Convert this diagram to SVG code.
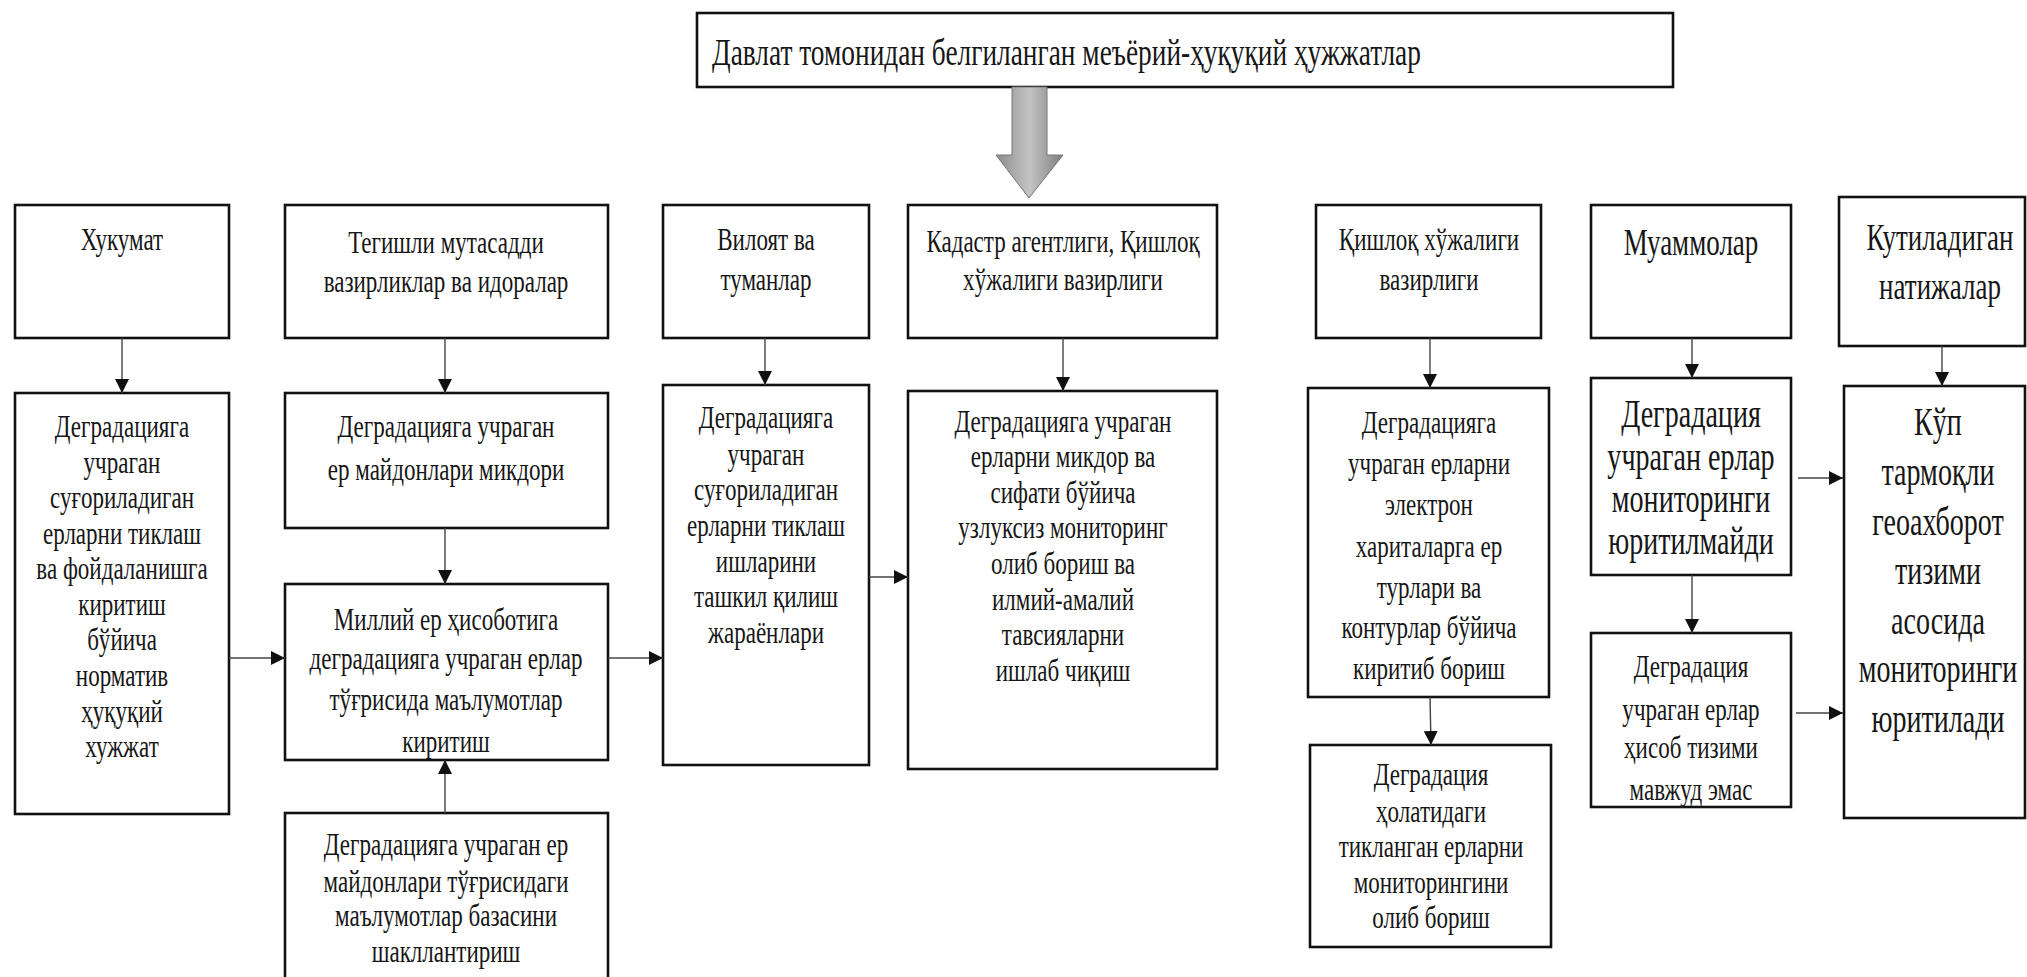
<svg xmlns="http://www.w3.org/2000/svg" width="2027" height="977" viewBox="0 0 2027 977">
<style>
.box{fill:#fff;stroke:#111;stroke-width:2.6}
.t{font-family:"Liberation Serif","Times New Roman",serif;font-size:32px;fill:#161616;text-anchor:middle}
.tl{font-size:39px}
.tm{font-size:37.5px}
.tt{font-family:"Liberation Serif","Times New Roman",serif;font-size:38px;fill:#161616}
.c{fill:none;stroke:#444;stroke-width:1.4}
</style>
<defs>
<marker id="ah" markerUnits="userSpaceOnUse" markerWidth="14" markerHeight="14" refX="14" refY="7" orient="auto">
<path d="M0,0 L14,7 L0,14 z" fill="#111"/>
</marker>
<linearGradient id="gr" x1="0" y1="0" x2="1" y2="0">
<stop offset="0" stop-color="#8c8c8c"/>
<stop offset="0.5" stop-color="#c4c4c4"/>
<stop offset="1" stop-color="#7e7e7e"/>
</linearGradient>
</defs>

<g id="top">
<rect class="box" x="697" y="13" width="976" height="74"/>
<g transform="translate(712 0) scale(0.72 1)"><text class="tt" x="0" y="65">Давлат томонидан белгиланган меъёрий-ҳуқуқий ҳужжатлар</text></g>
</g>
<g id="bigarrow">
<path d="M1012,87 L1047,87 L1047,155 L1063,155 L1029,198 L996,155 L1012,155 Z" fill="url(#gr)" stroke="#777" stroke-width="1"/>
</g>

<g id="A1"><rect class="box" x="15" y="205" width="214" height="133"/>
<g transform="translate(122 0) scale(0.72 1)">
<text class="t" x="0" y="250">Хукумат</text></g></g>
<g id="B1"><rect class="box" x="285" y="205" width="323" height="133"/>
<g transform="translate(446 0) scale(0.72 1)">
<text class="t" x="0" y="253">Тегишли мутасадди</text>
<text class="t" x="0" y="292">вазирликлар  ва идоралар</text></g></g>
<g id="C1"><rect class="box" x="663" y="205" width="206" height="133"/>
<g transform="translate(766 0) scale(0.72 1)">
<text class="t" x="0" y="250">Вилоят ва</text>
<text class="t" x="0" y="290">туманлар</text></g></g>
<g id="D1"><rect class="box" x="908" y="205" width="309" height="133"/>
<g transform="translate(1063 0) scale(0.72 1)">
<text class="t" x="0" y="252">Кадастр агентлиги, Қишлоқ</text>
<text class="t" x="0" y="290">хўжалиги вазирлиги</text></g></g>
<g id="E1"><rect class="box" x="1316" y="205" width="225" height="133"/>
<g transform="translate(1429 0) scale(0.72 1)">
<text class="t" x="0" y="250">Қишлоқ хўжалиги</text>
<text class="t" x="0" y="290">вазирлиги</text></g></g>
<g id="F1"><rect class="box" x="1591" y="205" width="200" height="133"/>
<g transform="translate(1691 0) scale(0.72 1)">
<text class="t tm" x="0" y="255">Муаммолар</text></g></g>
<g id="G1"><rect class="box" x="1839" y="197" width="186" height="149"/>
<g transform="translate(1940 0) scale(0.72 1)">
<text class="t tm" x="0" y="250">Кутиладиган</text>
<text class="t tm" x="0" y="299">натижалар</text></g></g>

<g id="A2"><rect class="box" x="15" y="393" width="214" height="421"/>
<g transform="translate(122 0) scale(0.72 1)">
<text class="t" x="0" y="437">Деградацияга</text>
<text class="t" x="0" y="473">учраган</text>
<text class="t" x="0" y="508">суғориладиган</text>
<text class="t" x="0" y="544">ерларни  тиклаш</text>
<text class="t" x="0" y="579">ва фойдаланишга</text>
<text class="t" x="0" y="615">киритиш</text>
<text class="t" x="0" y="650">бўйича</text>
<text class="t" x="0" y="686">норматив</text>
<text class="t" x="0" y="722">ҳуқуқий</text>
<text class="t" x="0" y="757">хужжат</text></g></g>
<g id="B2"><rect class="box" x="285" y="393" width="323" height="135"/>
<g transform="translate(446 0) scale(0.72 1)">
<text class="t" x="0" y="437">Деградацияга учраган</text>
<text class="t" x="0" y="480">ер майдонлари микдори</text></g></g>
<g id="B3"><rect class="box" x="285" y="584" width="323" height="176"/>
<g transform="translate(446 0) scale(0.72 1)">
<text class="t" x="0" y="630">Миллий ер ҳисоботига</text>
<text class="t" x="0" y="669">деградацияга учраган ерлар</text>
<text class="t" x="0" y="710">тўғрисида маълумотлар</text>
<text class="t" x="0" y="752">киритиш</text></g></g>
<g id="B4"><rect class="box" x="285" y="813" width="323" height="180"/>
<g transform="translate(446 0) scale(0.72 1)">
<text class="t" x="0" y="855">Деградацияга учраган ер</text>
<text class="t" x="0" y="892">майдонлари тўғрисидаги</text>
<text class="t" x="0" y="926">маълумотлар  базасини</text>
<text class="t" x="0" y="962">шакллантириш</text></g></g>
<g id="C2"><rect class="box" x="663" y="385" width="206" height="380"/>
<g transform="translate(766 0) scale(0.72 1)">
<text class="t" x="0" y="428">Деградацияга</text>
<text class="t" x="0" y="465">учраган</text>
<text class="t" x="0" y="500">суғориладиган</text>
<text class="t" x="0" y="536">ерларни  тиклаш</text>
<text class="t" x="0" y="572">ишларини</text>
<text class="t" x="0" y="607">ташкил қилиш</text>
<text class="t" x="0" y="643">жараёнлари</text></g></g>
<g id="D2"><rect class="box" x="908" y="391" width="309" height="378"/>
<g transform="translate(1063 0) scale(0.72 1)">
<text class="t" x="0" y="432">Деградацияга учраган</text>
<text class="t" x="0" y="467">ерларни  микдор ва</text>
<text class="t" x="0" y="503">сифати бўйича</text>
<text class="t" x="0" y="538">узлуксиз  мониторинг</text>
<text class="t" x="0" y="574">олиб бориш ва</text>
<text class="t" x="0" y="610">илмий-амалий</text>
<text class="t" x="0" y="645">тавсияларни</text>
<text class="t" x="0" y="681">ишлаб чиқиш</text></g></g>
<g id="E2"><rect class="box" x="1308" y="388" width="241" height="309"/>
<g transform="translate(1429 0) scale(0.72 1)">
<text class="t" x="0" y="433">Деградацияга</text>
<text class="t" x="0" y="474">учраган ерларни</text>
<text class="t" x="0" y="515">электрон</text>
<text class="t" x="0" y="557">хариталарга ер</text>
<text class="t" x="0" y="598">турлари  ва</text>
<text class="t" x="0" y="638">контурлар бўйича</text>
<text class="t" x="0" y="679">киритиб бориш</text></g></g>
<g id="E3"><rect class="box" x="1310" y="745" width="241" height="202"/>
<g transform="translate(1431 0) scale(0.72 1)">
<text class="t" x="0" y="785">Деградация</text>
<text class="t" x="0" y="822">ҳолатидаги</text>
<text class="t" x="0" y="857">тикланган ерларни</text>
<text class="t" x="0" y="893">мониторингини</text>
<text class="t" x="0" y="928">олиб бориш</text></g></g>
<g id="F2"><rect class="box" x="1591" y="378" width="200" height="197"/>
<g transform="translate(1691 0) scale(0.72 1)">
<text class="t tl" x="0" y="427">Деградация</text>
<text class="t tl" x="0" y="470">учраган ерлар</text>
<text class="t tl" x="0" y="512">мониторинги</text>
<text class="t tl" x="0" y="554">юритилмайди</text></g></g>
<g id="F3"><rect class="box" x="1591" y="633" width="200" height="174"/>
<g transform="translate(1691 0) scale(0.72 1)">
<text class="t" x="0" y="677">Деградация</text>
<text class="t" x="0" y="720">учраган ерлар</text>
<text class="t" x="0" y="758">ҳисоб тизими</text>
<text class="t" x="0" y="800">мавжуд эмас</text></g></g>
<g id="G2"><rect class="box" x="1844" y="386" width="181" height="432"/>
<g transform="translate(1938 0) scale(0.72 1)">
<text class="t tl" x="0" y="435">Кўп</text>
<text class="t tl" x="0" y="485">тармоқли</text>
<text class="t tl" x="0" y="535">геоахборот</text>
<text class="t tl" x="0" y="584">тизими</text>
<text class="t tl" x="0" y="634">асосида</text>
<text class="t tl" x="0" y="682">мониторинги</text>
<text class="t tl" x="0" y="732">юритилади</text></g></g>

<g id="connectors">
<line class="c" x1="122" y1="338" x2="122" y2="393" marker-end="url(#ah)"/>
<line class="c" x1="445" y1="338" x2="445" y2="393" marker-end="url(#ah)"/>
<line class="c" x1="445" y1="528" x2="445" y2="584" marker-end="url(#ah)"/>
<line class="c" x1="445" y1="813" x2="445" y2="760" marker-end="url(#ah)"/>
<line class="c" x1="229" y1="658" x2="285" y2="658" marker-end="url(#ah)"/>
<line class="c" x1="608" y1="658" x2="663" y2="658" marker-end="url(#ah)"/>
<line class="c" x1="765" y1="338" x2="765" y2="385" marker-end="url(#ah)"/>
<line class="c" x1="869" y1="577" x2="908" y2="577" marker-end="url(#ah)"/>
<line class="c" x1="1063" y1="338" x2="1063" y2="391" marker-end="url(#ah)"/>
<line class="c" x1="1430" y1="338" x2="1430" y2="388" marker-end="url(#ah)"/>
<line class="c" x1="1430" y1="697" x2="1431" y2="745" marker-end="url(#ah)"/>
<line class="c" x1="1692" y1="338" x2="1692" y2="378" marker-end="url(#ah)"/>
<line class="c" x1="1692" y1="575" x2="1692" y2="633" marker-end="url(#ah)"/>
<line class="c" x1="1798" y1="478" x2="1843" y2="478" marker-end="url(#ah)"/>
<line class="c" x1="1796" y1="713" x2="1843" y2="713" marker-end="url(#ah)"/>
<line class="c" x1="1942" y1="346" x2="1942" y2="386" marker-end="url(#ah)"/>
</g>
</svg>
